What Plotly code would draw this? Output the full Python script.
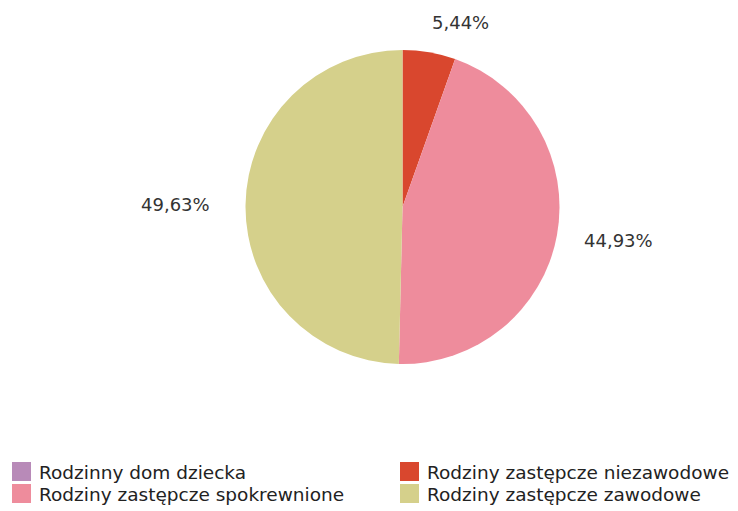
import math
import plotly.graph_objects as go

categories = ["Rodzinny dom dziecka", "Rodziny zastępcze niezawodowe",
              "Rodziny zastępcze spokrewnione", "Rodziny zastępcze zawodowe"]
shares = [0.0, 5.44, 44.93, 49.63]
colors = ["#b88ab8", "#d9472e", "#ee8c9c", "#d5d08b"]

# the page body has an 8px margin, so the figure is drawn 8px in from the window
OFF = 8
W, H = 730, 503


def px_x(x):
    return (x - OFF) / W


def px_y(y):
    return 1 - (y - OFF) / H


# pie geometry (window pixels)
cx, cy, r = 402.5, 207.0, 157.0

fig = go.Figure(go.Pie(
    labels=categories,
    values=shares,
    sort=False,
    direction="clockwise",
    rotation=0,
    marker=dict(colors=colors, line=dict(width=0)),
    textinfo="none",
    hoverinfo="label+percent",
    showlegend=False,
    domain=dict(x=[px_x(cx - r), px_x(cx + r)],
                y=[px_y(cy + r), px_y(cy - r)]),
))

# percentage labels placed from the data (mid-angle of each slice)
total = sum(shares)
cum = 0.0
label_r = r + 30
for v in shares:
    if v > 0:
        mid = (cum + v / 2) / total * 2 * math.pi
        s, c = math.sin(mid), math.cos(mid)
        lx = cx + label_r * s
        ly = cy - label_r * c
        fig.add_annotation(
            x=px_x(lx - 4), y=px_y(ly),
            xref="paper", yref="paper",
            text=f"{v:.2f}%".replace(".", ","),
            showarrow=False,
            xanchor="left" if s >= 0 else "right", yanchor="middle",
            font=dict(family="DejaVu Sans", size=18, color="#333333"),
        )
    cum += v

# legend (two columns, column-major order)
legend_order = [0, 2, 1, 3]
col_x = [12, 400]
row_y = [462, 484]
sw = 19
for k, idx in enumerate(legend_order):
    col, row = divmod(k, 2)
    x0, y0 = col_x[col], row_y[row]
    fig.add_shape(type="rect", xref="paper", yref="paper",
                  x0=px_x(x0), x1=px_x(x0 + sw),
                  y0=px_y(y0 + sw), y1=px_y(y0),
                  fillcolor=colors[idx], line=dict(width=0))
    fig.add_annotation(
        x=px_x(x0 + sw + 6), y=px_y(y0 + sw / 2 + 0.5),
        xref="paper", yref="paper", text=categories[idx], showarrow=False,
        xanchor="left", yanchor="middle",
        font=dict(family="DejaVu Sans", size=18.5, color="#222222"),
    )

fig.update_layout(
    width=W, height=H,
    margin=dict(l=0, r=0, t=0, b=0),
    paper_bgcolor="white",
    plot_bgcolor="white",
    showlegend=False,
)

fig.write_html("out.html")
